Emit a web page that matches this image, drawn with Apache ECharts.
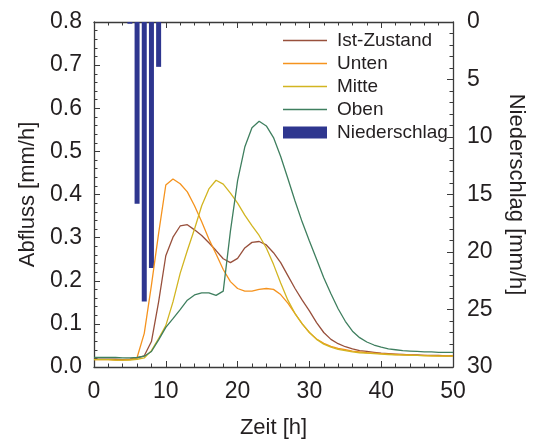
<!DOCTYPE html>
<html>
<head>
<meta charset="utf-8">
<script src="https://cdn.jsdelivr.net/npm/echarts@6/dist/echarts.min.js"></script>
<style>
html,body{margin:0;padding:0;background:#fff;}
#chart{width:535px;height:444px;}
</style>
</head>
<body>
<div id="chart"></div>
<script>
const hours = Array.from({length: 51}, (_, i) => i);
const istZustand = [0.018,0.018,0.018,0.018,0.017,0.018,0.021,0.026,0.059,0.151,0.258,0.301,0.327,0.330,0.318,0.305,0.288,0.270,0.251,0.242,0.252,0.276,0.289,0.291,0.283,0.265,0.242,0.212,0.182,0.155,0.130,0.103,0.080,0.064,0.054,0.047,0.042,0.038,0.036,0.034,0.032,0.031,0.030,0.029,0.028,0.028,0.027,0.027,0.027,0.026,0.026];
const unten = [0.017,0.017,0.017,0.016,0.016,0.017,0.022,0.078,0.190,0.310,0.422,0.436,0.425,0.406,0.374,0.337,0.297,0.262,0.226,0.198,0.182,0.176,0.176,0.180,0.182,0.180,0.168,0.148,0.124,0.100,0.080,0.065,0.055,0.048,0.043,0.040,0.037,0.035,0.033,0.032,0.031,0.030,0.029,0.028,0.028,0.027,0.027,0.026,0.026,0.026,0.026];
const mitte = [0.017,0.017,0.017,0.016,0.016,0.016,0.018,0.021,0.038,0.066,0.096,0.151,0.217,0.270,0.320,0.374,0.413,0.433,0.424,0.403,0.380,0.352,0.328,0.305,0.276,0.238,0.195,0.155,0.124,0.100,0.080,0.064,0.053,0.046,0.041,0.038,0.035,0.033,0.032,0.031,0.030,0.029,0.028,0.028,0.027,0.027,0.026,0.026,0.025,0.025,0.025];
const oben = [0.022,0.022,0.022,0.022,0.021,0.021,0.022,0.025,0.036,0.063,0.092,0.112,0.133,0.155,0.167,0.172,0.172,0.166,0.176,0.315,0.432,0.510,0.555,0.570,0.559,0.532,0.488,0.437,0.385,0.336,0.292,0.250,0.207,0.170,0.135,0.106,0.083,0.068,0.058,0.051,0.046,0.042,0.040,0.038,0.037,0.036,0.035,0.035,0.034,0.034,0.034];
const rainHours = [5, 6, 7, 8, 9];
const niederschlag = [0.15, 15.8, 24.3, 21.4, 3.9];
const seriesNames = ['Ist-Zustand', 'Unten', 'Mitte', 'Oben', 'Niederschlag'];

const FONT = '"Liberation Sans", Arial, Helvetica, sans-serif';
const TXT = '#231f20';
const AX = '#3a3a3a';

function pairs(xs, ys) { return xs.map((x, i) => [x, ys[i]]); }

const chart = echarts.init(document.getElementById('chart'), null, {renderer: 'canvas'});
const lineSeries = (name, data, color) => ({
  name, type: 'line', xAxisIndex: 0, yAxisIndex: 0,
  data: pairs(hours, data), symbol: 'none', showSymbol: false,
  lineStyle: {color, width: 1.3}, itemStyle: {color}, z: 3, animation: false
});
const LINE_ICON = 'path://M0,0H44V1.4H0Z';

chart.setOption({
  animation: false,
  textStyle: {fontFamily: FONT, color: TXT},
  grid: {left: 94, right: 75, top: 22, bottom: 75, containLabel: false},
  legend: {
    orient: 'vertical', left: 278, top: 26, itemWidth: 44, itemHeight: 12, itemGap: 4,
    symbolKeepAspect: true,
    textStyle: {fontFamily: FONT, fontSize: 19, color: TXT, padding: [0, 0, 0, 5]},
    data: [
      {name: seriesNames[0], icon: LINE_ICON},
      {name: seriesNames[1], icon: LINE_ICON},
      {name: seriesNames[2], icon: LINE_ICON},
      {name: seriesNames[3], icon: LINE_ICON},
      {name: seriesNames[4], icon: 'rect'}
    ]
  },
  xAxis: [{
    type: 'value', min: 0, max: 50, interval: 10, position: 'bottom',
    name: 'Zeit [h]', nameLocation: 'middle', nameGap: 50,
    nameTextStyle: {fontFamily: FONT, fontSize: 22, color: TXT},
    axisLine: {show: true, onZero: false, lineStyle: {color: AX, width: 1.3}},
    axisTick: {show: true, inside: true, length: 6, lineStyle: {color: AX}},
    minorTick: {show: true, splitNumber: 5, length: 3.5, lineStyle: {color: AX}},
    axisLabel: {fontFamily: FONT, fontSize: 23, color: TXT, margin: 13},
    splitLine: {show: false}
  }, {
    type: 'value', min: 0, max: 50, interval: 10, position: 'top',
    axisLine: {show: true, onZero: false, lineStyle: {color: AX, width: 1.3}},
    axisTick: {show: true, inside: true, length: 6, lineStyle: {color: AX}},
    minorTick: {show: true, splitNumber: 5, length: 3.5, lineStyle: {color: AX}},
    axisLabel: {show: false}, splitLine: {show: false}
  }],
  yAxis: [{
    type: 'value', min: 0, max: 0.8, interval: 0.1, position: 'left',
    name: 'Abfluss [mm/h]', nameLocation: 'middle', nameGap: 55,
    nameTextStyle: {fontFamily: FONT, fontSize: 22, color: TXT},
    axisLine: {show: true, onZero: false, lineStyle: {color: AX, width: 1.3}},
    axisTick: {show: true, inside: true, length: 6, lineStyle: {color: AX}},
    minorTick: {show: true, splitNumber: 5, length: 3.5, lineStyle: {color: AX}},
    axisLabel: {fontFamily: FONT, fontSize: 23, color: TXT, margin: 12, formatter: v => v.toFixed(1)},
    splitLine: {show: false}
  }, {
    type: 'value', min: 0, max: 30, interval: 5, position: 'right', inverse: true,
    name: 'Niederschlag [mm/h]', nameLocation: 'middle', nameGap: 52, nameRotate: -90,
    nameTextStyle: {fontFamily: FONT, fontSize: 22, color: TXT},
    axisLine: {show: true, onZero: false, lineStyle: {color: AX, width: 1.3}},
    axisTick: {show: true, inside: true, length: 6, lineStyle: {color: AX}},
    minorTick: {show: true, splitNumber: 5, length: 3.5, lineStyle: {color: AX}},
    axisLabel: {fontFamily: FONT, fontSize: 23, color: TXT, margin: 14},
    splitLine: {show: false}
  }],
  series: [
    lineSeries(seriesNames[0], istZustand, '#98503c'),
    lineSeries(seriesNames[1], unten, '#f5931e'),
    lineSeries(seriesNames[2], mitte, '#d2b521'),
    lineSeries(seriesNames[3], oben, '#3f7f5f'),
    {
      name: seriesNames[4], type: 'bar', xAxisIndex: 0, yAxisIndex: 1,
      data: pairs(rainHours, niederschlag), barWidth: 5,
      itemStyle: {color: '#2e368f'}, z: 2, animation: false
    }
  ]
});
</script>
</body>
</html>
